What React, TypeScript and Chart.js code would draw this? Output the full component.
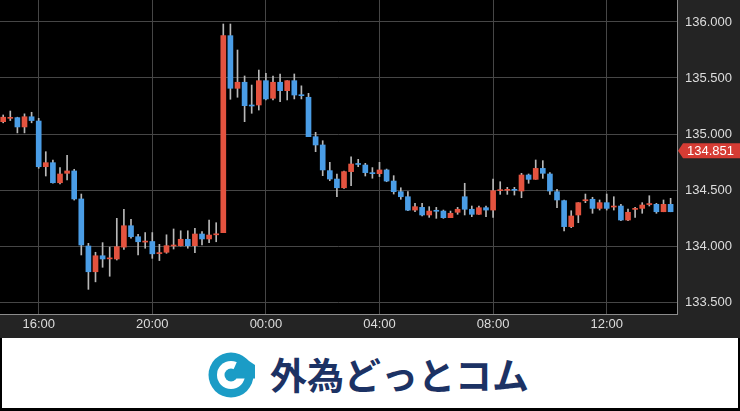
import React, { useEffect, useRef } from "react";
import { Chart, registerables } from "chart.js";

Chart.register(...registerables);

const times = [
  "14:45",
  "15:00", "15:15", "15:30", "15:45",
  "16:00", "16:15", "16:30", "16:45",
  "17:00", "17:15", "17:30", "17:45",
  "18:00", "18:15", "18:30", "18:45",
  "19:00", "19:15", "19:30", "19:45",
  "20:00", "20:15", "20:30", "20:45",
  "21:00", "21:15", "21:30", "21:45",
  "22:00", "22:15", "22:30", "22:45",
  "23:00", "23:15", "23:30", "23:45",
  "00:00", "00:15", "00:30", "00:45",
  "01:00", "01:15", "01:30", "01:45",
  "02:00", "02:15", "02:30", "02:45",
  "03:00", "03:15", "03:30", "03:45",
  "04:00", "04:15", "04:30", "04:45",
  "05:00", "05:15", "05:30", "05:45",
  "06:00", "06:15", "06:30", "06:45",
  "07:00", "07:15", "07:30", "07:45",
  "08:00", "08:15", "08:30", "08:45",
  "09:00", "09:15", "09:30", "09:45",
  "10:00", "10:15", "10:30", "10:45",
  "11:00", "11:15", "11:30", "11:45",
  "12:00", "12:15", "12:30", "12:45",
  "13:00", "13:15", "13:30", "13:45",
  "14:00", "14:15",
];

const openPrices = [
  135.110, 135.140, 135.146, 135.063, 135.154, 135.116, 134.708, 134.744, 134.565, 134.649,
  134.670, 134.420, 134.000, 133.770, 133.913, 133.885, 133.884, 133.990, 134.181, 134.083,
  134.035, 134.040, 133.932, 133.944, 134.000, 134.003, 134.060, 134.003, 134.107, 134.063,
  134.100, 134.120, 135.878, 135.408, 135.462, 135.253, 135.259, 135.476, 135.319, 135.462,
  135.387, 135.476, 135.350, 135.328, 134.976, 134.902, 134.673, 134.598, 134.520, 134.664,
  134.732, 134.723, 134.650, 134.646, 134.679, 134.580, 134.485, 134.440, 134.321, 134.345,
  134.277, 134.314, 134.312, 134.253, 134.301, 134.440, 134.328, 134.283, 134.342, 134.321,
  134.494, 134.497, 134.500, 134.491, 134.634, 134.595, 134.693, 134.643, 134.485, 134.405,
  134.173, 134.277, 134.404, 134.417, 134.336, 134.387, 134.348, 134.357, 134.232, 134.327,
  134.336, 134.370, 134.372, 134.306, 134.372,
];

const highPrices = [
  135.170, 135.205, 135.150, 135.180, 135.194, 135.140, 134.842, 134.768, 134.700, 134.810,
  134.685, 134.464, 134.024, 133.944, 134.030, 133.990, 134.247, 134.327, 134.238, 134.104,
  134.120, 134.120, 134.015, 134.100, 134.152, 134.136, 134.136, 134.158, 134.128, 134.232,
  134.208, 135.982, 135.982, 135.750, 135.518, 135.437, 135.571, 135.542, 135.518, 135.536,
  135.476, 135.536, 135.430, 135.363, 135.015, 134.940, 134.747, 134.643, 134.670, 134.797,
  134.774, 134.738, 134.700, 134.747, 134.687, 134.628, 134.520, 134.485, 134.381, 134.381,
  134.351, 134.345, 134.321, 134.312, 134.345, 134.560, 134.357, 134.357, 134.357, 134.598,
  134.574, 134.524, 134.524, 134.649, 134.643, 134.768, 134.762, 134.655, 134.506, 134.411,
  134.315, 134.387, 134.464, 134.435, 134.411, 134.464, 134.440, 134.372, 134.330, 134.345,
  134.387, 134.449, 134.381, 134.411, 134.426,
];

const lowPrices = [
  135.100, 135.120, 135.010, 135.010, 135.100, 134.694, 134.625, 134.560, 134.554, 134.590,
  134.410, 133.920, 133.613, 133.680, 133.810, 133.730, 133.875, 133.970, 134.069, 133.920,
  133.980, 133.890, 133.870, 133.935, 133.973, 134.000, 133.980, 133.940, 134.010, 134.030,
  134.038, 134.120, 135.310, 135.328, 135.110, 135.185, 135.214, 135.304, 135.304, 135.288,
  135.304, 135.313, 135.313, 134.976, 134.842, 134.628, 134.583, 134.440, 134.515, 134.538,
  134.708, 134.625, 134.605, 134.620, 134.574, 134.464, 134.417, 134.315, 134.306, 134.268,
  134.256, 134.247, 134.247, 134.253, 134.283, 134.277, 134.262, 134.283, 134.262, 134.256,
  134.461, 134.461, 134.455, 134.431, 134.560, 134.595, 134.604, 134.461, 134.342, 134.134,
  134.164, 134.208, 134.387, 134.292, 134.321, 134.321, 134.321, 134.226, 134.226, 134.256,
  134.292, 134.357, 134.292, 134.306, 134.306,
];

const closePrices = [
  135.150, 135.145, 135.063, 135.154, 135.120, 134.708, 134.744, 134.565, 134.643, 134.670,
  134.420, 134.009, 133.770, 133.913, 133.884, 133.890, 133.994, 134.181, 134.083, 134.038,
  134.040, 133.930, 133.935, 134.003, 134.005, 134.060, 134.003, 134.107, 134.063, 134.098,
  134.107, 135.878, 135.408, 135.462, 135.253, 135.250, 135.476, 135.313, 135.462, 135.387,
  135.476, 135.348, 135.342, 134.976, 134.902, 134.679, 134.598, 134.520, 134.664, 134.732,
  134.728, 134.655, 134.646, 134.679, 134.580, 134.485, 134.440, 134.320, 134.351, 134.277,
  134.312, 134.310, 134.253, 134.292, 134.328, 134.328, 134.283, 134.342, 134.321, 134.494,
  134.497, 134.500, 134.497, 134.634, 134.595, 134.693, 134.649, 134.491, 134.411, 134.173,
  134.268, 134.387, 134.407, 134.336, 134.387, 134.336, 134.350, 134.232, 134.301, 134.330,
  134.366, 134.372, 134.306, 134.372, 134.306,
];

const yTickValues = [133.5, 134.0, 134.5, 135.0, 135.5, 136.0];
const xTickLabels = ["16:00", "20:00", "00:00", "04:00", "08:00", "12:00"];
const currentPrice = 134.851;

const UP_COLOR = "#e4533f";
const DOWN_COLOR = "#4a9de6";
const WICK_COLOR = "#b8b8b8";
const FONT = "'Liberation Sans', Arial, sans-serif";

const bgPlugin = {
  id: "bgPlugin",
  beforeDraw(chart: any) {
    const { ctx, chartArea } = chart;
    ctx.save();
    ctx.fillStyle = "#242424";
    ctx.fillRect(0, 0, chart.width, chart.height);
    ctx.fillStyle = "#000000";
    ctx.fillRect(chartArea.left, chartArea.top, chartArea.right - chartArea.left, chartArea.bottom - chartArea.top);
    ctx.restore();
  },
};

const priceTagPlugin = {
  id: "priceTag",
  afterDraw(chart: any) {
    const { ctx, chartArea } = chart;
    const y = chart.scales.y.getPixelForValue(currentPrice);
    const x0 = chartArea.right + 1;
    const h = 7.5;
    ctx.save();
    ctx.fillStyle = "#d63c34";
    ctx.beginPath();
    ctx.moveTo(x0, y);
    ctx.lineTo(x0 + 5, y - h);
    ctx.lineTo(chart.width, y - h);
    ctx.lineTo(chart.width, y + h);
    ctx.lineTo(x0 + 5, y + h);
    ctx.closePath();
    ctx.fill();
    ctx.fillStyle = "#ffffff";
    ctx.font = `13px ${FONT}`;
    ctx.textBaseline = "middle";
    ctx.textAlign = "left";
    ctx.fillText(currentPrice.toFixed(3), x0 + 9, y + 0.5);
    ctx.restore();
  },
};

function CandleChart() {
  const ref = useRef<HTMLCanvasElement | null>(null);
  useEffect(() => {
    if (!ref.current) return;
    const colors = closePrices.map((c, i) => (c >= openPrices[i] ? UP_COLOR : DOWN_COLOR));
    const chart = new Chart(ref.current, {
      type: "bar",
      data: {
        datasets: [
          {
            label: "body",
            data: times.map((t, i) => ({ x: i, y: [openPrices[i], closePrices[i]] })) as any,
            backgroundColor: colors,
            borderWidth: 0,
            barThickness: 5,
            minBarLength: 1,
            grouped: false,
            order: 1,
          } as any,
          {
            label: "wick",
            data: times.map((t, i) => ({ x: i, y: [lowPrices[i], highPrices[i]] })) as any,
            backgroundColor: WICK_COLOR,
            borderWidth: 0,
            barThickness: 1,
            minBarLength: 1,
            grouped: false,
            order: 2,
          } as any,
        ],
      },
      options: {
        animation: false,
        responsive: false,
        maintainAspectRatio: false,
        layout: { padding: 0 },
        plugins: { legend: { display: false }, tooltip: { enabled: false } },
        scales: {
          x: {
            type: "linear",
            min: -0.45,
            max: 94.9,
            offset: false,
            afterBuildTicks: (axis: any) => {
              axis.ticks = xTickLabels.map((l) => ({ value: times.indexOf(l) }));
            },
            afterFit: (axis: any) => {
              axis.height = 24;
              axis.paddingLeft = 0;
              axis.paddingRight = 0;
            },
            ticks: {
              autoSkip: false,
              maxRotation: 0,
              color: "#dddddd",
              font: { family: FONT, size: 13 },
              padding: 3,
              callback: (v: any) => times[Number(v)] ?? "",
            },
            grid: { color: "#464646", lineWidth: 1, drawTicks: false, offset: false },
            border: { display: true, color: "#8c8c8c", width: 1 },
          },
          y: {
            type: "linear",
            position: "right",
            min: 133.3929,
            max: 136.1964,
            afterBuildTicks: (axis: any) => {
              axis.ticks = yTickValues.map((v) => ({ value: v }));
            },
            afterFit: (axis: any) => {
              axis.width = 63;
              axis.paddingTop = 0;
              axis.paddingBottom = 0;
            },
            ticks: {
              color: "#dddddd",
              font: { family: FONT, size: 13 },
              padding: 8,
              crossAlign: "near",
              callback: (v: any) => Number(v).toFixed(3),
            },
            grid: { color: "#464646", lineWidth: 1, drawTicks: false },
            border: { display: true, color: "#8c8c8c", width: 1 },
          },
        },
      } as any,
      plugins: [bgPlugin, priceTagPlugin],
    });
    return () => chart.destroy();
  }, []);
  return <canvas ref={ref} width={740} height={338} style={{ display: "block", width: 740, height: 338 }} />;
}

function Logo() {
  const cx = 231;
  const cy = 37;
  return (
    <svg width={736} height={70} viewBox="2 338 736 70" style={{ display: "block" }}>
      <rect x={2} y={338} width={736} height={70} fill="#ffffff" />
      <g transform={`translate(0,338)`}>
        <circle cx={cx} cy={cy} r={22.5} fill="#1b9cc6" />
        <circle cx={cx} cy={cy} r={14} fill="#ffffff" />
        <path d={`M ${cx} ${cy} L ${cx + 9} ${cy - 20} L ${cx + 24} ${cy - 10} L ${cx + 24} ${cy} Z`} fill="#1b9cc6" />
        <circle cx={cx} cy={cy} r={6.5} fill="#1b9cc6" />
        <rect x={cx} y={cy - 4.5} width={24} height={8} fill="#1b9cc6" />
        <text
          x={270}
          y={51.5}
          fill="#1c3264"
          style={{ fontFamily: "'Noto Sans CJK JP', sans-serif", fontWeight: 700, fontSize: 37 }}
        >
          外為どっとコム
        </text>
      </g>
    </svg>
  );
}

export default function App() {
  useEffect(() => {
    document.body.style.margin = "0";
  }, []);
  return (
    <div style={{ position: "absolute", left: 0, top: 0, width: 740, height: 411, background: "#000000", overflow: "hidden" }}>
      <CandleChart />
      <div style={{ position: "absolute", left: 2, top: 338, width: 736, height: 70 }}>
        <Logo />
      </div>
    </div>
  );
}
